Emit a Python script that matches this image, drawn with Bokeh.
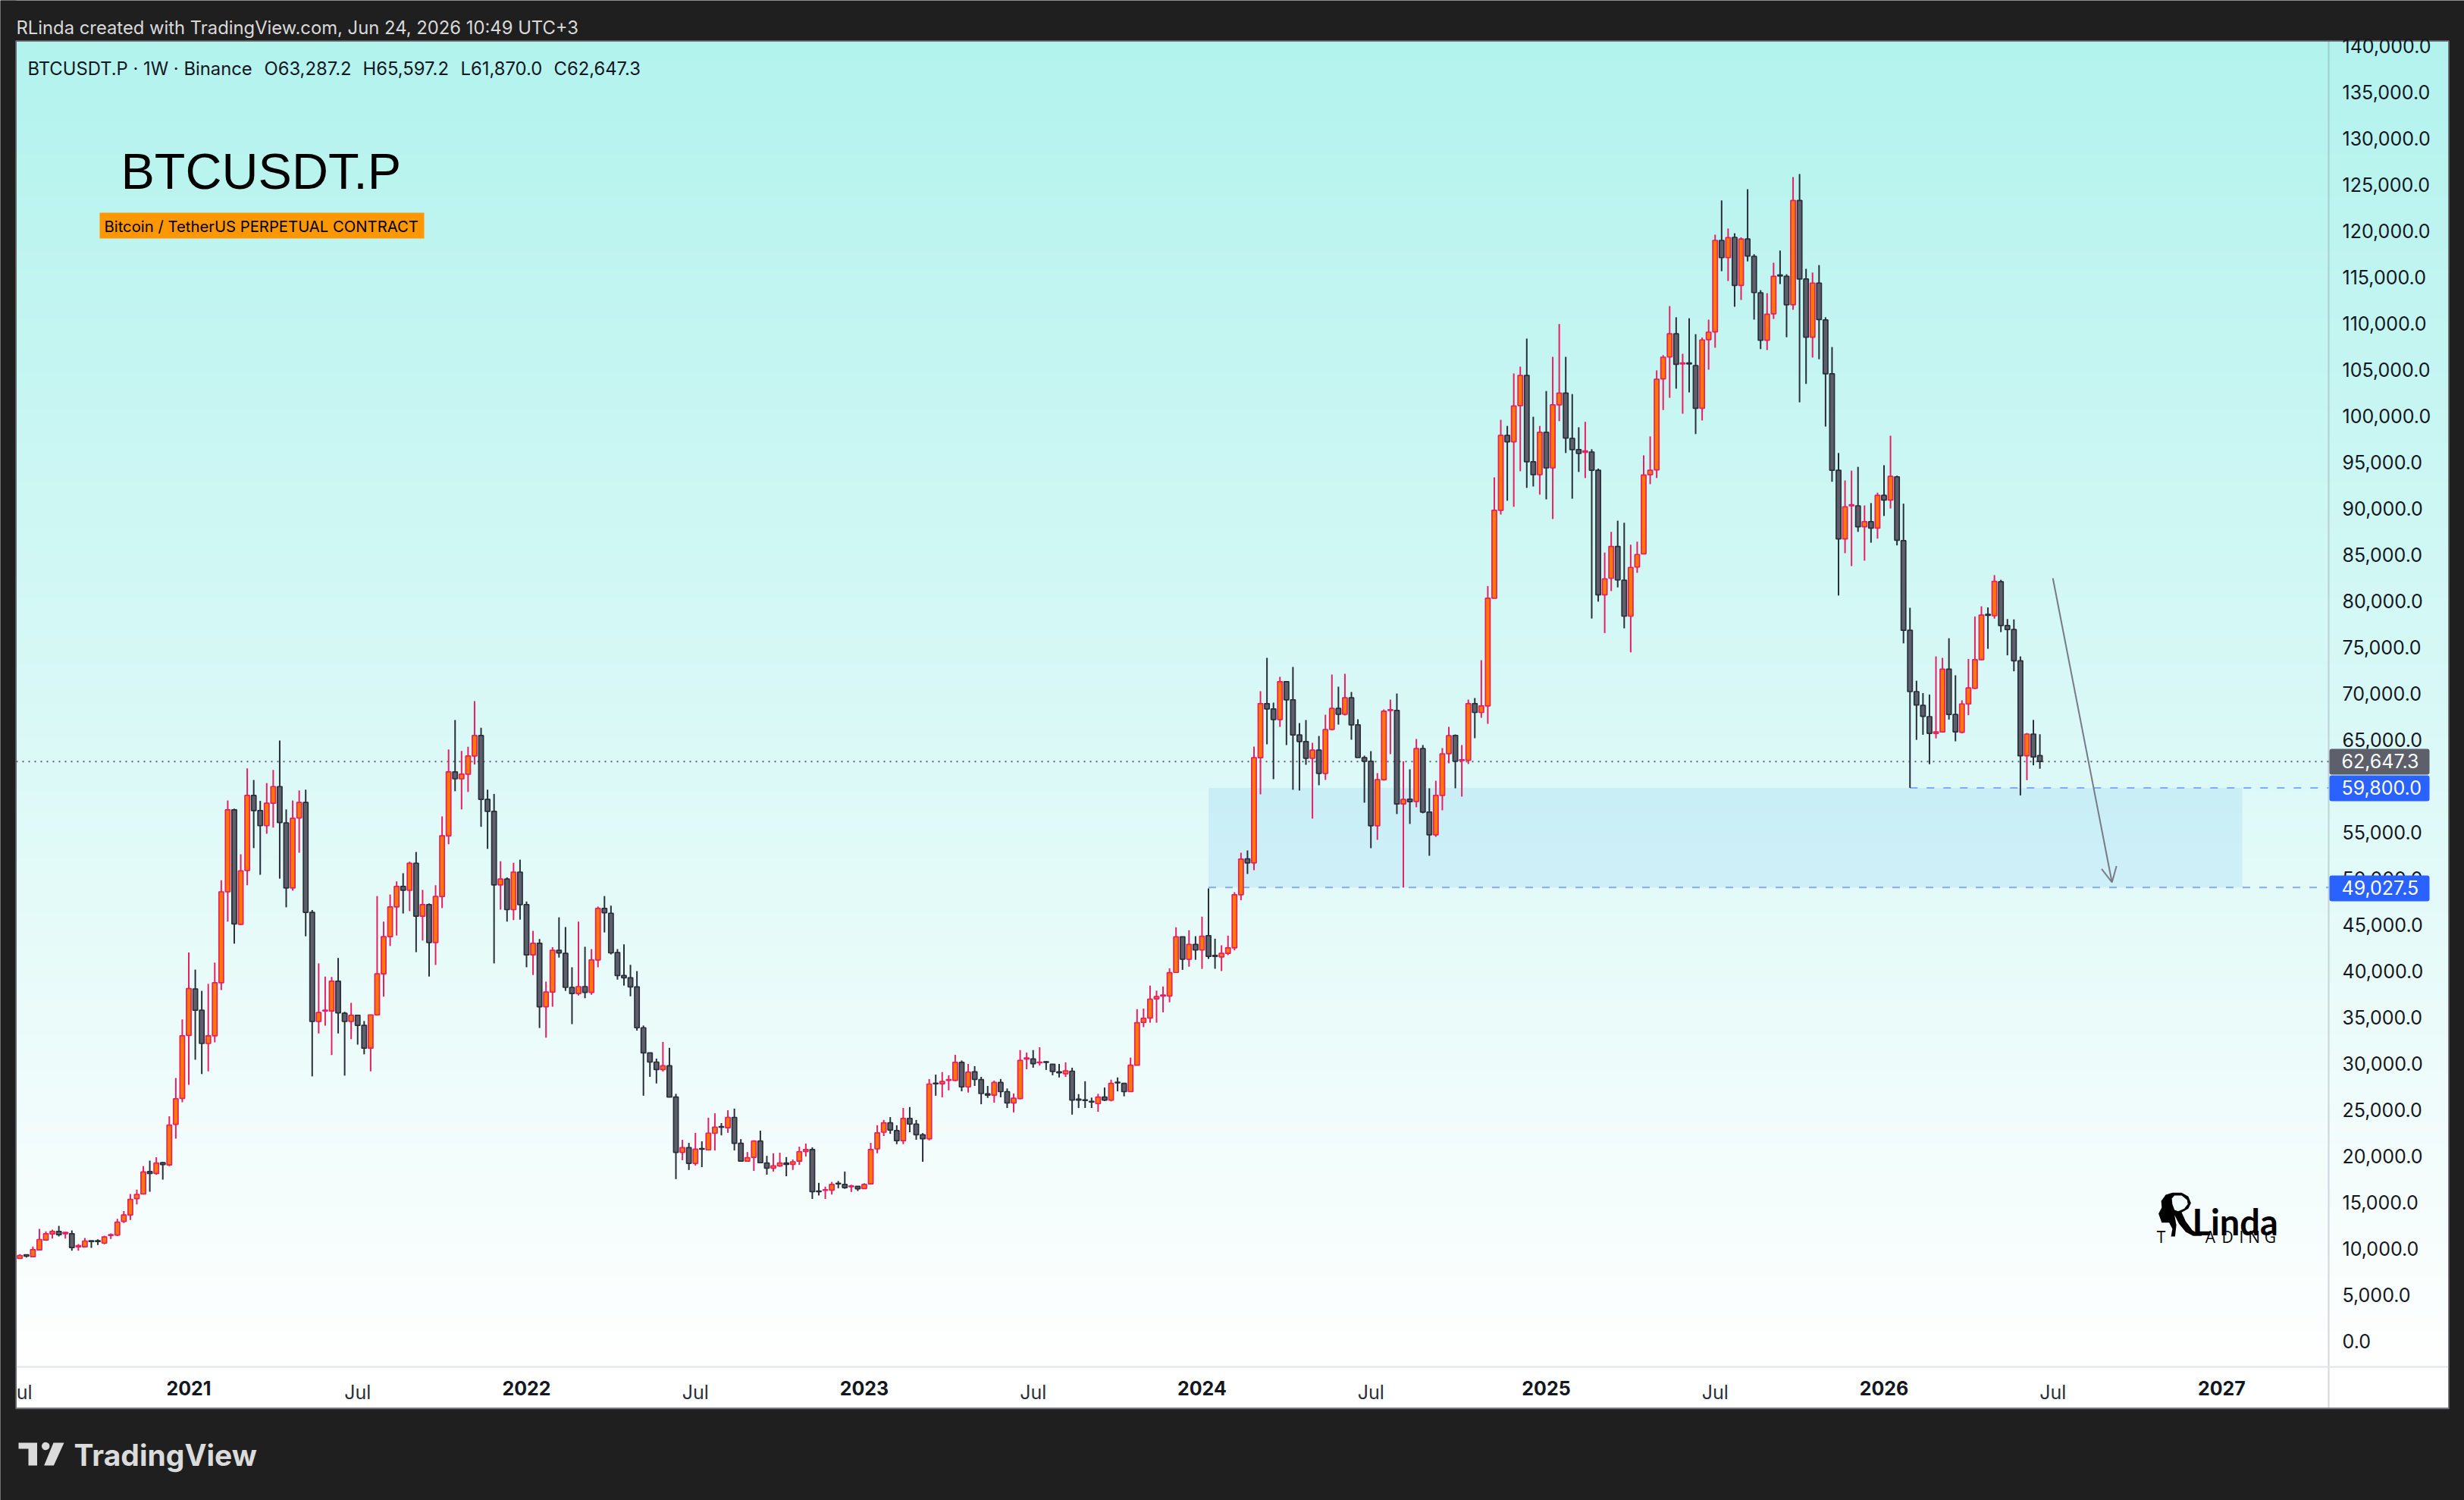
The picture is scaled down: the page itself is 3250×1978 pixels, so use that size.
import numpy as np
from bokeh.embed import file_html
from bokeh.resources import INLINE
from bokeh.plotting import figure
from bokeh.models import (LinearAxis, FixedTicker, NumeralTickFormatter, Label, BoxAnnotation,
                          Arrow, OpenHead, ColumnDataSource, Range1d)

# weekly candles: the first is the week 27 bars before the first week of 2021
FIRST_WEEK = -27
OPEN = [
 9120,8934,9344,9126,9863,10929,11584,11858,11612,11612,
 10191,10191,10844,10844,10593,11429,11471,12935,13645,15402,
 15904,18329,18120,19291,19040,23431,26233,33050,38068,35768,
 32172,33008,38737,48565,57431,45052,50865,58978,57347,55716,
 58142,59940,56009,48983,56553,58226,46349,34555,35685,35685,
 38905,35434,34555,35225,34137,31670,35267,39699,43714,46934,
 49151,48732,51660,45931,47185,43087,48063,54629,61529,60777,
 61278,63244,65460,58560,57264,49318,49945,46641,50698,47185,
 41749,43003,36145,37734,42250,41916,38236,37567,38319,37692,
 41205,46767,46252,42001,39518,39280,38294,33872,31152,30165,
 29349,29757,26390,20404,20915,19214,20813,20677,22479,23193,
 23057,24180,21391,19452,19860,21629,19248,18704,18942,19248,
 19112,19452,20507,20711,16221,16289,16323,17071,16935,16697,
 16731,16493,17003,20779,22581,23601,22751,21663,24078,23465,
 22309,21867,27887,27819,28193,28193,30131,27479,29111,28261,
 26730,26594,27955,26968,25744,26220,30505,30505,30097,30199,
 29927,29111,28907,29179,26152,26084,25914,25676,26390,26050,
 27989,27853,26968,29825,34451,34927,37001,37307,37307,39858,
 43701,41287,42885,42273,43826,41695,41531,41914,42515,48254,
 52133,51696,63061,68908,68334,67187,71285,69318,65520,64810,
 63007,63881,61367,66121,68389,67760,69536,66613,63061,62679,
 55712,60684,68170,68170,58062,58581,58335,64045,57187,54729,
 58991,63498,65465,62761,62788,68908,67952,68662,80299,89813,
 97899,97204,101119,104376,95045,93655,98228,94387,101192,102473,
 97570,96362,96070,96106,94130,80665,82458,85898,82239,78360,
 83666,85093,93655,94167,104010,106388,108876,105620,105729,105437,
 100826,108254,109096,118975,117109,119304,114109,119121,117255,113304,
 108181,111035,115243,115096,112023,123293,114804,108510,114365,110376,
 104559,94130,86703,90288,90288,88020,88569,87874,91423,90910,
 93423,86520,76833,70205,68714,67499,65694,65851,72636,67734,
 65812,68871,70558,73656,78559,78402,82088,77343,76911,73538,
 63263,65616,63287.2]
HIGH = [
 9150,9399,9344,10218,12131,11858,12049,12459,11803,11967,
 10491,11147,10844,11011,11387,11638,13227,14064,15904,16364,
 18915,19500,19877,19375,24310,28450,34765,41999,40159,37859,
 38612,40912,49820,58435,57556,52622,61906,60651,58393,60317,
 61738,64917,57473,58435,59522,59606,46600,40828,39407,39365,
 41414,35601,36563,35225,34597,35267,48105,45345,48272,49694,
 50573,51827,52873,48774,47311,49276,56720,63955,67133,63788,
 64248,69182,66297,59606,59146,51869,50113,51702,52036,47520,
 44341,43463,38863,42585,45805,44760,40410,45345,42627,42376,
 46976,48105,47068,42375,42885,40674,39994,34111,31152,30539,
 32342,31696,26730,21765,21425,22513,21595,24146,24622,23567,
 24962,25132,21833,20438,21697,22751,20030,20302,20370,19894,
 19622,21017,21357,20949,17106,16697,17208,17310,18330,16901,
 16765,17071,21425,23329,23908,24214,23329,25200,25302,23908,
 22479,28329,28805,29077,28737,30948,30335,29961,29723,28567,
 27581,28159,28329,27309,26764,31458,31186,31458,31764,30267,
 29961,29961,30131,29553,26696,28091,26322,26730,27411,28261,
 28499,27921,30641,35879,35947,38430,37886,38328,40300,44722,
 43701,44416,43769,45878,48935,43498,42788,43826,48525,52789,
 53035,64263,70246,73853,69017,71804,71285,72869,66804,67132,
 64673,65411,67706,72050,70738,72132,70164,67214,63280,63772,
 61395,68279,69345,70001,62679,61805,65083,64427,59756,60575,
 64099,66394,65575,64427,69345,69509,73607,81617,93362,99582,
 98924,104595,105327,108364,99912,98924,102692,106388,109937,106388,
 102363,98777,99363,96399,94313,85239,87471,88678,88459,86081,
 86410,95740,97789,104924,106571,111877,110669,106717,110559,108840,
 108474,110413,119597,123293,120256,119743,119304,124500,117475,113596,
 113267,116560,117877,115316,125817,126147,115901,115499,116304,110669,
 107449,95996,93033,94094,94496,90325,90581,91715,94679,97863,
 93550,90521,79265,71381,70048,69891,74009,73852,75970,71970,
 69264,73735,78323,79421,79304,82794,82285,78049,78010,74009,
 65734,67146,65597.2]
LOW = [
 8960,8934,9044,9126,9863,10929,11093,11311,11093,9781,
 9781,10191,10091,10384,10467,11053,11345,12767,13102,14775,
 15904,16155,17995,17451,18915,21884,25815,27697,30415,28868,
 29161,32297,37943,45345,42961,44969,49276,53291,50405,54838,
 55507,49987,46892,48691,52789,43756,28617,33259,34095,30917,
 33259,28701,32632,32046,31001,29161,35183,37232,42710,43840,
 46223,46474,42041,43296,39407,40661,46809,53709,59438,57473,
 59355,62324,55591,53207,40828,46641,45345,45512,45554,40410,
 39574,33845,32799,36145,41456,37859,34263,37357,37065,37441,
 40410,44174,41797,39076,38430,37273,33566,26526,28567,27853,
 29145,26390,17514,19554,18500,18976,18806,20677,20609,22241,
 22513,20609,19452,19418,18398,19282,17990,18330,18840,17820,
 18500,19044,19962,15371,15745,15371,15847,16527,16459,16119,
 16221,16459,16969,20302,22173,22411,21289,21289,22581,21765,
 19384,21697,26526,26356,27104,28091,27002,26866,27581,25608,
 26288,25778,26356,25200,24724,26152,29383,29553,29791,29315,
 28737,28499,28567,24486,25200,25200,25200,24792,25948,25914,
 27002,26458,26968,29825,33940,34417,34417,35539,36627,39858,
 40130,40470,41219,40232,41313,40247,40001,41722,42242,47653,
 50494,50904,59100,64509,60739,66394,64427,59592,59510,62296,
 56477,60083,60657,66012,66640,67624,65001,63089,58198,53281,
 54182,60575,63444,56969,49027.5,55903,57707,57051,52461,54510,
 57379,62460,59756,58854,62378,65165,67378,66722,80299,89337,
 90837,90179,94021,92228,92374,91496,90984,88861,99436,95996,
 91057,93947,93289,78104,79933,76531,81068,81470,77043,74445,
 83044,85093,92630,93289,100643,101961,102949,100241,102546,98046,
 99509,104998,107376,115645,114584,111803,112535,116706,110413,107230,
 107120,110486,114255,108510,111474,101485,103461,106315,106132,98851,
 92886,80592,85166,83775,87471,84361,86300,86739,89191,89996,
 86010,75421,59800,64989,65538,62361,65145,65773,67185,64832,
 65694,67655,70479,73617,74833,78088,76637,74127,72401,58988,
 60635,62243,61870.0]
CLOSE = [
 9020,9262,9180,9891,10983,11612,11858,11502,11748,10109,
 10328,10819,10760,10760,11262,11513,12851,13645,15318,15862,
 18288,18120,19249,19082,23348,26191,33008,38110,35768,32172,
 33008,38737,48565,57431,45094,50823,58978,57347,55716,58142,
 59940,56051,48983,56511,58226,46349,34555,35517,35768,38905,
 35476,34555,35225,34137,31670,35267,39699,43714,46934,49151,
 48732,51660,45931,47185,43087,48063,54629,61529,60777,61278,
 63244,65460,58560,57264,49318,49945,46641,50698,47185,41749,
 43003,36145,37734,42250,41958,38236,37567,38319,37692,41205,
 46767,46307,41967,39518,39280,38294,33872,31152,30165,29349,
 29757,26390,20404,20915,19214,20745,20745,22479,23125,23125,
 24180,21391,19452,19826,21629,19282,18704,18942,19248,19112,
 19384,20473,20711,16153,16153,16357,16935,17003,16595,16765,
 16459,16935,20711,22513,23601,22819,21663,24078,23465,22309,
 21867,27785,27819,28057,28261,30131,27479,29077,28295,26764,
 26594,27955,26968,25744,26254,30335,30607,29995,30165,30131,
 29145,29009,29213,26050,26050,26016,25846,26390,26050,27853,
 27921,26968,29825,34417,34893,36967,37239,37409,39824,43701,
 41287,42885,42273,43769,41586,41586,41914,42515,48252,52106,
 51696,63061,68908,68334,67187,71285,69318,65520,64810,63007,
 63881,61367,66094,68389,67760,69536,66613,63089,62679,55712,
 60684,68088,68252,58062,58553,58308,64045,57187,54729,58991,
 63471,65438,62679,62843,68908,67952,68662,80299,89813,97899,
 97204,101082,104376,95045,93655,98228,94387,101192,102473,97606,
 96362,95960,96216,94130,80665,82385,85898,82275,78360,83629,
 85019,93618,94130,103973,106351,108876,105583,105729,105620,100826,
 108218,109059,118975,117109,119268,114109,119121,117292,113340,108181,
 110998,115096,115133,112023,123293,114804,108510,114365,110413,104559,
 94130,86703,90179,90398,88020,88569,87874,91423,90910,93472,
 86560,76833,70205,68754,67538,65694,65851,72636,67734,65851,
 68871,70597,73656,78480,78441,82128,77343,76911,73538,63263,
 65616,63145,62647.3]

PRICE_TICKS = list(range(0, 140001, 5000))
YEAR_TICKS = {0: "2021", 52: "2022", 104: "2023", 156: "2024", 209: "2025", 261: "2026", 313: "2027"}
MONTH_TICKS = {-25.3: "ul", 26: "Jul", 78: "Jul", 130: "Jul", 182: "Jul", 235: "Jul", 287: "Jul"}
LAST_PRICE = 62647.3
ZONE_TOP = 59800.0
ZONE_BOTTOM = 49027.5
ZONE_LEFT_WEEK = 157.0
ZONE_RIGHT_WEEK = 316.16
TOP_LINE_START_WEEK = 265
ARROW = (287.0, 82459, 296.1, 49590)

assert len(OPEN) == len(HIGH) == len(LOW) == len(CLOSE) == 313, (len(OPEN), len(HIGH), len(LOW), len(CLOSE))

# the frame is the whole page; these map screenshot pixels onto the two scales
PX_W0, PX_PER_WEEK = 248.5, 8.567
PY_0, PY_PER_PRICE = 1768.0, 0.0122
xd = lambda px: (px - PX_W0) / PX_PER_WEEK
yd = lambda py: (PY_0 - py) / PY_PER_PRICE
xs_ = lambda seq: [xd(a) for a in seq]
ys_ = lambda seq: [yd(a) for a in seq]

DARK = "#1F1F1F"
UP_LINE, UP_FILL = "#E91E63", "#FF7800"
DN_LINE, DN_FILL = "#2A2E39", "#5D606B"
TXT = "#131722"
FONT = "Inter"

p = figure(width=3250, height=1978, output_backend="svg", toolbar_location=None,
           x_axis_location=None, y_axis_location=None,
           x_range=Range1d(xd(0), xd(3250)), y_range=Range1d(yd(1978), yd(0)),
           min_border_left=0, min_border_right=0, min_border_top=0, min_border_bottom=0,
           background_fill_color=DARK, border_fill_color=DARK, outline_line_color=None)
p.grid.visible = False

# gradient background of chart + price scale, white time-scale strip
n = 400
top_c = np.array([179, 243, 238], float)
grad = np.zeros((n, 1), dtype=np.uint32)
v = grad.view(dtype=np.uint8).reshape((n, 1, 4))
for r in range(n):
    t = r / (n - 1)
    c = 255 + (top_c - 255) * t
    v[r, 0, :3] = c.astype(np.uint8)
    v[r, 0, 3] = 255
p.image_rgba(image=[grad], x=xd(21), y=yd(1802), dw=xd(3229) - xd(21), dh=yd(54) - yd(1802))
p.quad(left=[xd(21)], right=[xd(3229)], bottom=[yd(1856)], top=[yd(1802)], fill_color="white", line_color=None)

# separators
p.segment(x0=[xd(3071)], y0=[yd(54)], x1=[xd(3071)], y1=[yd(1856)], line_color="#5D606B", line_alpha=0.25, line_width=2)
p.segment(x0=[xd(21)], y0=[yd(1802)], x1=[xd(3229)], y1=[yd(1802)], line_color="#E0E3EB", line_width=2)

# zone and levels
p.quad(left=[ZONE_LEFT_WEEK], right=[ZONE_RIGHT_WEEK], bottom=[ZONE_BOTTOM], top=[ZONE_TOP],
       fill_color="#2196F3", fill_alpha=0.10, line_color=None)
p.line([xd(21), xd(3071)], [LAST_PRICE, LAST_PRICE], line_color="#5D606B", line_width=2, line_dash="2 6")
p.line([TOP_LINE_START_WEEK, xd(3071)], [ZONE_TOP, ZONE_TOP], line_color="#82A9FF", line_width=2, line_dash="10 12")
p.line([ZONE_LEFT_WEEK, xd(3071)], [ZONE_BOTTOM, ZONE_BOTTOM], line_color="#82A9FF", line_width=2, line_dash="10 12")

# candles
x = np.arange(FIRST_WEEK, FIRST_WEEK + len(OPEN))
o, h, l, c = map(np.array, (OPEN, HIGH, LOW, CLOSE))
up = c >= o
src = ColumnDataSource(dict(x=x, h=h, l=l, top=np.maximum(o, c), bottom=np.minimum(o, c),
                            line=np.where(up, UP_LINE, DN_LINE), fill=np.where(up, UP_FILL, DN_FILL)))
p.segment(x0="x", y0="l", x1="x", y1="h", source=src, line_color="line", line_width=2)
p.vbar(x="x", top="top", bottom="bottom", width=0.72, source=src, fill_color="fill", line_color="line", line_width=1.7)

# margin that clips the first candle, and the chart's thin frame
p.quad(left=[xd(0)], right=[xd(21)], bottom=[yd(1978)], top=[yd(0)], fill_color=DARK, line_color=None)
p.quad(left=[xd(20.5)], right=[xd(3229.5)], bottom=[yd(1857)], top=[yd(53.5)], fill_color=None,
       line_color="#6F7277", line_width=1.5)

# axes placed at the edges of the chart area
ya = LinearAxis(ticker=FixedTicker(ticks=PRICE_TICKS), formatter=NumeralTickFormatter(format="0,0.0"),
                fixed_location=xd(3071), axis_line_color=None, major_tick_line_color=None,
                minor_tick_line_color=None, major_label_standoff=12,
                major_label_text_font=FONT, major_label_text_font_size="25px", major_label_text_color=TXT)
p.add_layout(ya, "right")
for ticks, style, color in ((YEAR_TICKS, "bold", TXT), (MONTH_TICKS, "normal", "#2A2E39")):
    xa = LinearAxis(ticker=FixedTicker(ticks=list(ticks)), major_label_overrides=dict(ticks),
                    fixed_location=yd(1802), axis_line_color=None, major_tick_line_color=None,
                    minor_tick_line_color=None, major_label_standoff=12,
                    major_label_text_font=FONT, major_label_text_font_size="25px",
                    major_label_text_font_style=style, major_label_text_color=color)
    p.add_layout(xa, "below")

def label(px, py, text, size, color=TXT, style="normal", font=FONT, align="left", baseline="middle"):
    p.add_layout(Label(x=xd(px), y=yd(py), text=text, text_font=font, text_font_size=f"{size}px",
                       text_color=color, text_font_style=style, text_align=align, text_baseline=baseline))

def box(x0, y0, x1, y1, color, radius=0):
    p.add_layout(BoxAnnotation(left=xd(x0), right=xd(x1), top=yd(y0), bottom=yd(y1), fill_color=color,
                               fill_alpha=1, line_color=None, border_radius=radius))

# price tags
for y0, y1, col, txt in ((987, 1021, "#5D606B", "62,647.3"), (1022, 1056, "#2962FF", "59,800.0"),
                         (1154, 1188, "#2962FF", "49,027.5")):
    box(3072, y0, 3204, y1, col, 3)
    label(3088, (y0 + y1) / 2 - 1, txt, 25, "white")

# arrow
p.add_layout(Arrow(end=OpenHead(size=20, line_color="#787B86", line_width=2), x_start=ARROW[0], y_start=ARROW[1],
                   x_end=ARROW[2], y_end=ARROW[3], line_color="#787B86", line_width=2))

# texts
label(21, 36, "RLinda created with TradingView.com, Jun 24, 2026 10:49 UTC+3", 23.8, "#D9D9D9")
for px, txt in ((36, "BTCUSDT.P · 1W · Binance"), (348, "O63,287.2"), (478, "H65,597.2"),
                (607, "L61,870.0"), (730, "C62,647.3")):
    label(px, 90, txt, 23.8, TXT)
label(159, 225, "BTCUSDT.P", 66.5, "black", font="Liberation Sans")
box(131, 280, 559, 314, "#FF9800")
label(137, 298, "Bitcoin / TetherUS PERPETUAL CONTRACT", 20.3, "black")

# RLinda Trading logo: head-and-R mark, then its words (outline read in a 2.851x / 3x crop at 2700,1500)
lx = lambda seq: xs_([2700 + a / 2.851 for a in seq])
ly = lambda seq: ys_([1500 + a / 3 for a in seq])
p.patch(lx([470, 505, 530, 540, 530, 505, 520, 545, 582, 548, 520, 495, 478, 485, 480, 465, 470, 458, 430, 418, 430, 428, 445]),
        ly([217, 217, 232, 258, 280, 295, 330, 365, 388, 388, 372, 340, 305, 345, 390, 390, 360, 335, 335, 300, 275, 250, 225]),
        fill_color="black", line_color=None)
p.patch(lx([478, 505, 525, 528, 515, 492, 478, 470, 468]), ly([228, 228, 245, 262, 280, 290, 285, 262, 240]),
        fill_color="#F0FDFC", line_color=None)
label(2891, 1610, "Linda", 47, "black", style="bold", font="Lato", baseline="alphabetic")
label(2850, 1630, "T", 21, "black", font="Open Sans", align="center", baseline="alphabetic")
for px, ch in ((2915, "A"), (2937.6, "D"), (2956, "I"), (2972.7, "N"), (2994, "G")):
    label(px, 1630, ch, 21, "black", font="Open Sans", align="center", baseline="alphabetic")

# TradingView footer
LOGO = "#DBDBDB"
p.patch(xs_((24, 48.5, 48.5, 37, 37, 24)), ys_((1902, 1902, 1932, 1932, 1910, 1910)), fill_color=LOGO, line_color=None)
p.patch(xs_((70, 84, 70.4, 57.7)), ys_((1902, 1902, 1932, 1932)), fill_color=LOGO, line_color=None)
th = np.linspace(0, 2 * np.pi, 24)
p.patch(xs_(59.7 + 5.2 * np.cos(th)), ys_(1906.5 + 5.2 * np.sin(th)), fill_color=LOGO, line_color=None)
label(97, 1918, "TradingView", 39, LOGO, style="bold")

open("out.html", "w").write(file_html(p, INLINE))
